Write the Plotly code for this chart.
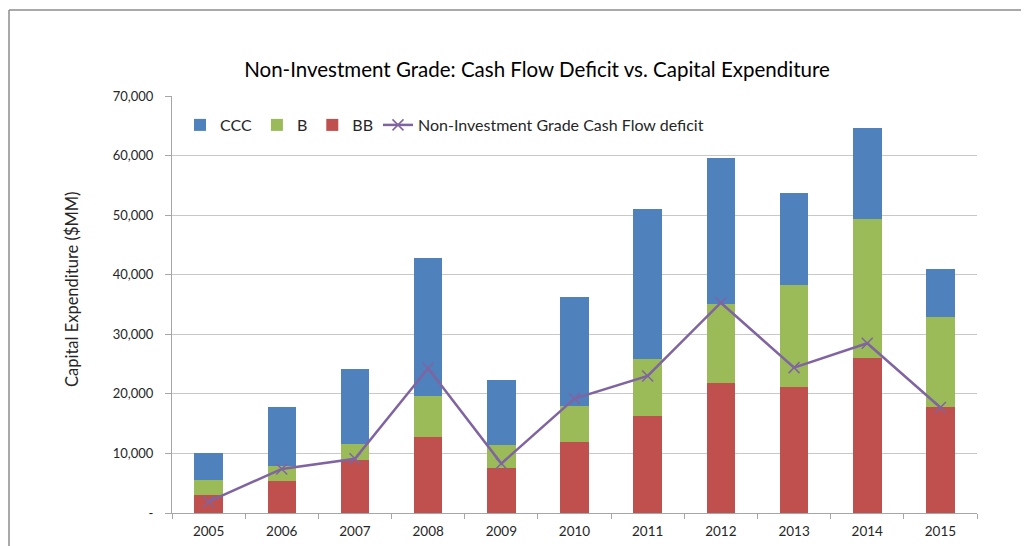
import plotly.graph_objects as go

years = ["2005", "2006", "2007", "2008", "2009", "2010", "2011", "2012", "2013", "2014", "2015"]
bb = [3000, 5400, 8900, 12700, 7550, 12000, 16200, 21900, 21100, 26100, 17800]
b = [2550, 2500, 2600, 7000, 3800, 6000, 9700, 13200, 17200, 23300, 15100]
ccc = [4500, 9950, 12750, 23150, 10950, 18200, 25150, 24450, 15450, 15200, 8100]
deficit = [1900, 7400, 9100, 24300, 8300, 19200, 23000, 35300, 24400, 28500, 17700]
ytick_vals = [0, 10000, 20000, 30000, 40000, 50000, 60000, 70000]
ytick_text = ["-", "10,000", "20,000", "30,000", "40,000", "50,000", "60,000", "70,000"]

FONT = "Lato, Carlito, Calibri, sans-serif"
# page body has an 8px margin, so the figure starts at (8, 8) of the window
OFF = 8
W, H = 1029 - OFF, 546 - OFF
L, R, T, B = 172 - OFF, 1029 - 977, 96 - OFF, 546 - 513
pw, ph = W - L - R, H - T - B

fig = go.Figure()
fig.add_trace(go.Bar(x=years, y=bb, name="BB", marker=dict(color="#C0504D", line_width=0), legendrank=3))
fig.add_trace(go.Bar(x=years, y=b, name="B", marker=dict(color="#9BBB59", line_width=0), legendrank=2))
fig.add_trace(go.Bar(x=years, y=ccc, name="CCC", marker=dict(color="#4F81BD", line_width=0), legendrank=1))
fig.add_trace(go.Scatter(x=years, y=deficit, name="Non-Investment Grade Cash Flow deficit",
                         mode="lines+markers", line=dict(color="#8064A2", width=2.5),
                         marker=dict(symbol="x-thin", size=11, line=dict(color="#8064A2", width=1.5)),
                         legendrank=4))

fig.update_layout(
    width=W, height=H,
    margin=dict(l=L, r=R, t=T, b=B, autoexpand=False),
    barmode="stack", bargap=0.61,
    plot_bgcolor="white", paper_bgcolor="white",
    font=dict(family=FONT, size=13, color="#262626"),
    title=dict(text="Non-Investment Grade: Cash Flow Deficit vs. Capital Expenditure",
               x=(537 - OFF) / W, xanchor="center", y=1 - (70 - OFF) / H, yanchor="middle",
               font=dict(size=20.5, color="#000000")),
    legend=dict(orientation="h", traceorder="normal",
                x=(180 - 172) / pw, xanchor="left", y=1 - (125 - 96) / ph, yanchor="middle",
                bgcolor="rgba(0,0,0,0)", font=dict(size=16, color="#262626"),
                itemwidth=30, tracegroupgap=0),
    showlegend=True,
)
fig.update_yaxes(range=[0, 70000], tickvals=ytick_vals, ticktext=ytick_text,
                 showgrid=True, gridcolor="#C8C8C8", gridwidth=1,
                 showline=True, linecolor="#A6A6A6", linewidth=1,
                 ticks="outside", ticklen=6, tickcolor="#A6A6A6", ticklabelstandoff=9,
                 tickfont=dict(size=13, color="#262626"), zeroline=False)
fig.update_xaxes(range=[-0.5, len(years) - 0.5], autorange=False,
                 showline=True, linecolor="#A6A6A6", linewidth=1,
                 ticks="outside", ticklen=5, tickcolor="#A6A6A6", tickson="boundaries",
                 ticklabelstandoff=6,
                 tickfont=dict(size=13.5, color="#262626"), showgrid=False)

fig.add_annotation(text="Capital Expenditure ($MM)", textangle=-90, showarrow=False,
                   xref="paper", yref="paper", x=(72 - 172) / pw, y=(513 - 289) / ph,
                   xanchor="center", yanchor="middle", font=dict(size=16.5, color="#262626"))

# chart frame (top and left border)
ytop = 1 + (T - (10 - OFF)) / ph
xleft = (1 - L) / pw
fig.add_shape(type="line", xref="paper", yref="paper",
              x0=xleft, x1=(W - L) / pw, y0=ytop, y1=ytop,
              line=dict(color="#8C8C8C", width=1.5))
fig.add_shape(type="line", xref="paper", yref="paper",
              x0=xleft, x1=xleft, y0=ytop, y1=-B / ph,
              line=dict(color="#8C8C8C", width=1.5))

fig.write_html("out.html")
